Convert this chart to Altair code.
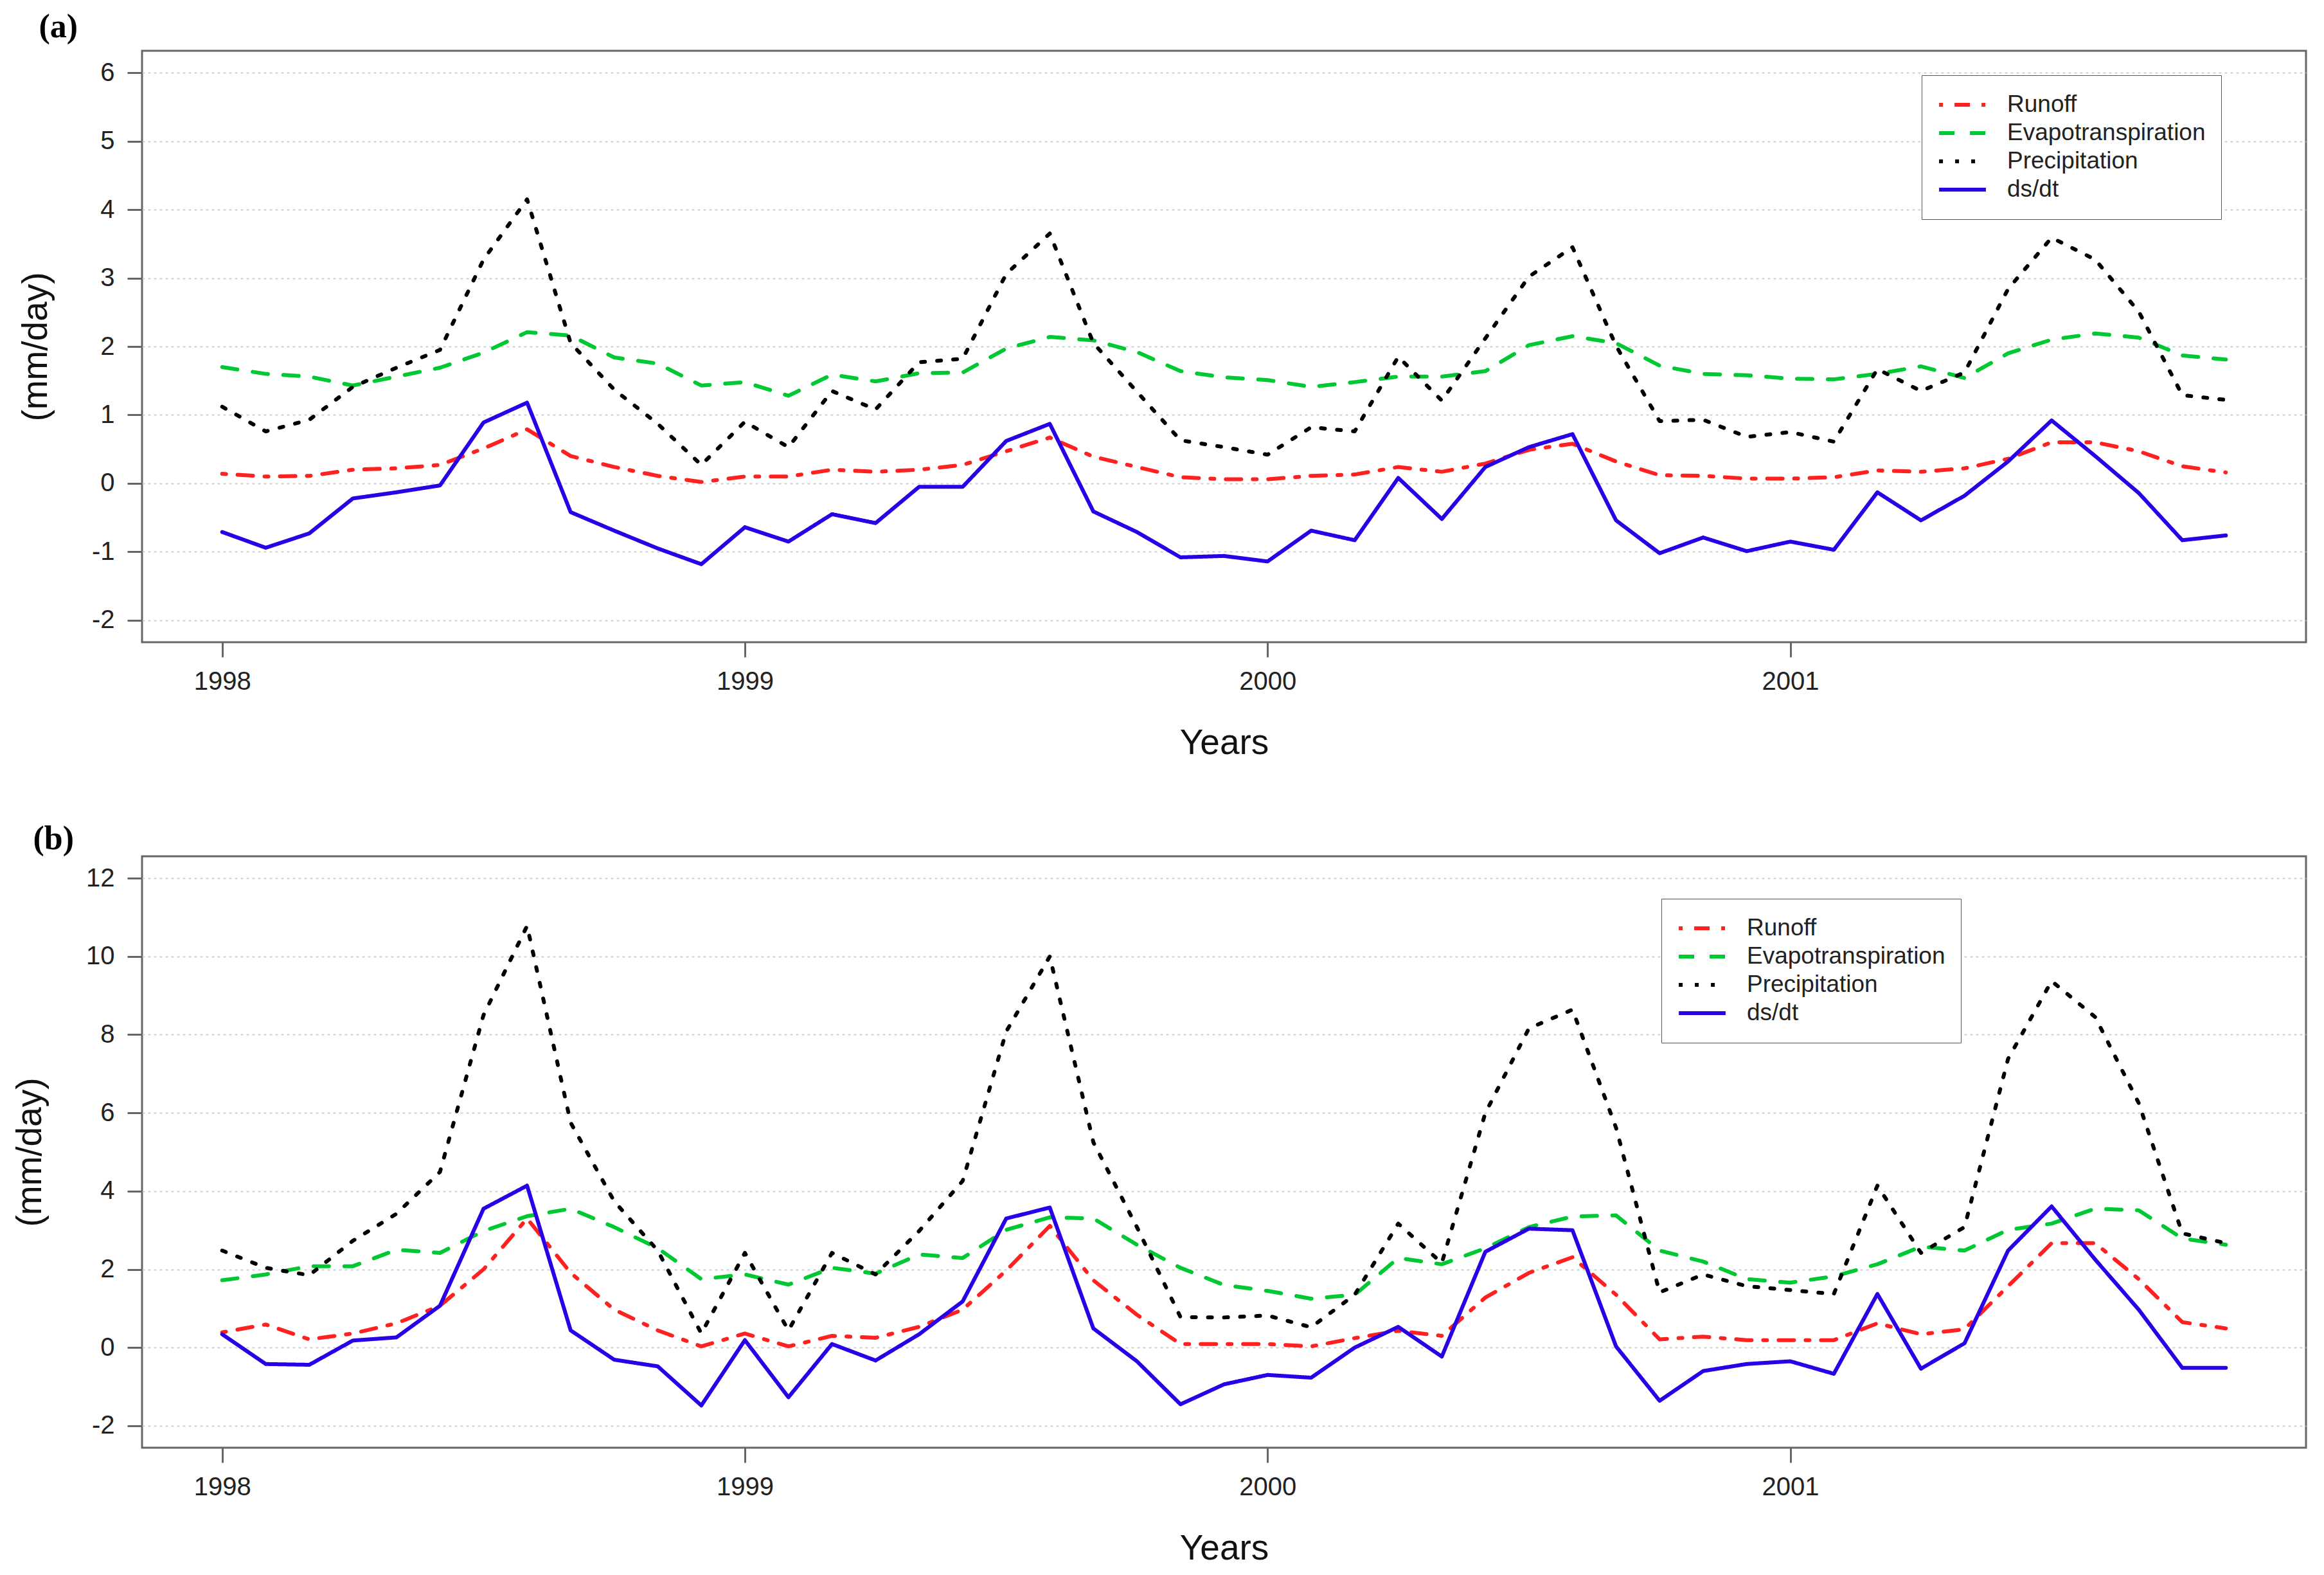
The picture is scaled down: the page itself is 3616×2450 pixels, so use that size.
import altair as alt
import pandas as pd

series_names = ["Runoff", "Evapotranspiration", "Precipitation", "ds/dt"]
series_colors = ["#ff2020", "#00c832", "#000000", "#2a00e6"]
series_dashes = [[6, 18, 24, 18], [24, 24], [6, 19], [1, 0]]

year_ticks = [1998, 1999, 2000, 2001]
start_year = 1998

# Panel (a) monthly values (mm/day), Jan 1998 - Nov 2001
runoff_a = [0.14, 0.10, 0.11, 0.20, 0.22, 0.27, 0.51, 0.79, 0.40, 0.24, 0.11, 0.02,
            0.10, 0.10, 0.20, 0.17, 0.20, 0.27, 0.47, 0.67, 0.39, 0.24, 0.09, 0.06,
            0.06, 0.11, 0.13, 0.24, 0.17, 0.29, 0.49, 0.58, 0.32, 0.12, 0.11, 0.07,
            0.07, 0.09, 0.19, 0.17, 0.22, 0.36, 0.60, 0.60, 0.47, 0.25, 0.16]
et_a = [1.70, 1.60, 1.56, 1.43, 1.56, 1.69, 1.91, 2.21, 2.16, 1.84, 1.75, 1.43,
        1.48, 1.28, 1.59, 1.49, 1.61, 1.62, 1.97, 2.14, 2.09, 1.92, 1.64, 1.55,
        1.51, 1.41, 1.48, 1.56, 1.56, 1.64, 2.02, 2.15, 2.05, 1.72, 1.60, 1.58,
        1.53, 1.52, 1.60, 1.71, 1.54, 1.90, 2.10, 2.19, 2.13, 1.87, 1.81]
precip_a = [1.12, 0.76, 0.93, 1.41, 1.69, 1.95, 3.27, 4.15, 2.05, 1.37, 0.87, 0.27,
            0.90, 0.53, 1.35, 1.08, 1.77, 1.82, 3.06, 3.65, 2.05, 1.34, 0.63, 0.53,
            0.42, 0.82, 0.76, 1.85, 1.21, 2.12, 3.02, 3.45, 2.01, 0.91, 0.93, 0.68,
            0.75, 0.61, 1.67, 1.35, 1.62, 2.84, 3.59, 3.27, 2.51, 1.29, 1.22]
dsdt_a = [-0.71, -0.94, -0.73, -0.22, -0.13, -0.03, 0.89, 1.18, -0.42, -0.69, -0.95, -1.18,
          -0.64, -0.85, -0.45, -0.58, -0.05, -0.05, 0.62, 0.87, -0.41, -0.71, -1.08, -1.06,
          -1.14, -0.69, -0.83, 0.08, -0.52, 0.24, 0.53, 0.72, -0.54, -1.02, -0.79, -0.99,
          -0.85, -0.97, -0.13, -0.54, -0.18, 0.32, 0.92, 0.40, -0.14, -0.83, -0.76]

# Panel (b)
runoff_b = [0.39, 0.59, 0.21, 0.36, 0.62, 1.07, 2.00, 3.30, 1.91, 0.97, 0.44, 0.03,
            0.36, 0.03, 0.30, 0.25, 0.53, 0.97, 1.97, 3.11, 1.72, 0.84, 0.09, 0.09,
            0.09, 0.03, 0.24, 0.43, 0.30, 1.28, 1.91, 2.31, 1.35, 0.21, 0.28, 0.19,
            0.19, 0.19, 0.62, 0.34, 0.47, 1.57, 2.67, 2.67, 1.75, 0.65, 0.49]
et_b = [1.72, 1.87, 2.08, 2.08, 2.50, 2.42, 2.98, 3.36, 3.55, 3.08, 2.54, 1.75,
        1.87, 1.61, 2.04, 1.89, 2.38, 2.29, 3.01, 3.33, 3.30, 2.63, 2.04, 1.60,
        1.45, 1.25, 1.35, 2.29, 2.13, 2.54, 3.08, 3.35, 3.38, 2.48, 2.20, 1.75,
        1.66, 1.82, 2.13, 2.58, 2.48, 3.01, 3.17, 3.55, 3.51, 2.79, 2.63]
precip_b = [2.48, 2.04, 1.85, 2.73, 3.42, 4.49, 8.50, 10.78, 5.75, 3.74, 2.48, 0.36,
            2.42, 0.44, 2.42, 1.87, 2.98, 4.26, 8.08, 10.00, 5.25, 3.08, 0.78, 0.77,
            0.82, 0.52, 1.35, 3.17, 2.16, 6.00, 8.16, 8.64, 5.62, 1.41, 1.87, 1.57,
            1.47, 1.37, 4.14, 2.42, 3.08, 7.38, 9.37, 8.45, 6.25, 2.92, 2.67]
dsdt_b = [0.34, -0.42, -0.44, 0.18, 0.26, 1.07, 3.55, 4.14, 0.44, -0.31, -0.48, -1.48,
          0.19, -1.27, 0.09, -0.33, 0.34, 1.18, 3.30, 3.58, 0.49, -0.35, -1.45, -0.94,
          -0.70, -0.77, 0.00, 0.53, -0.23, 2.45, 3.04, 3.00, 0.03, -1.36, -0.60, -0.42,
          -0.35, -0.67, 1.37, -0.54, 0.11, 2.48, 3.61, 2.25, 0.97, -0.52, -0.52]

yticks_a = [-2, -1, 0, 1, 2, 3, 4, 5, 6]
yticks_b = [-2, 0, 2, 4, 6, 8, 10, 12]


def make_df(arrays):
    rows = []
    for name, arr in zip(series_names, arrays):
        for i, v in enumerate(arr):
            rows.append({"t": start_year + i / 12.0, "value": v, "series": name})
    return pd.DataFrame(rows)


n = len(runoff_a)
pad_x = (n - 1) * 0.04 / 12.0
x_domain = [start_year - pad_x, start_year + (n - 1) / 12.0 + pad_x]

FONT = "Liberation Sans"


def panel(df, yticks, legend_x, legend_y, label, title_offset):
    lo, hi = min(yticks), max(yticks)
    pad = (hi - lo) * 0.04
    legend = alt.Legend(orient="none", legendX=legend_x, legendY=legend_y, title=None)
    return (
        alt.Chart(df)
        .mark_line(strokeWidth=6, strokeCap="round", strokeJoin="round")
        .encode(
            x=alt.X("t:Q",
                    scale=alt.Scale(domain=x_domain, nice=False, zero=False),
                    axis=alt.Axis(values=year_ticks, format="d", title="Years",
                                  grid=False, labelPadding=18, titlePadding=49)),
            y=alt.Y("value:Q",
                    scale=alt.Scale(domain=[lo - pad, hi + pad], nice=False, zero=False),
                    axis=alt.Axis(values=yticks, labelExpr="'' + datum.value",
                                  title="(mm/day)",
                                  grid=True, labelPadding=20, titlePadding=58)),
            color=alt.Color("series:N",
                            scale=alt.Scale(domain=series_names, range=series_colors),
                            legend=legend),
            strokeDash=alt.StrokeDash("series:N",
                                      scale=alt.Scale(domain=series_names, range=series_dashes),
                                      legend=legend),
        )
        .properties(
            width=3367, height=920,
            title=alt.TitleParams(label, anchor="start", frame="bounds", dx=32,
                                  font="Liberation Serif", fontWeight="bold",
                                  fontSize=52, color="#000000", offset=title_offset),
        )
    )


chart_a = panel(make_df([runoff_a, et_a, precip_a, dsdt_a]), yticks_a, 2769, 38, "(a)", 10)
chart_b = panel(make_df([runoff_b, et_b, precip_b, dsdt_b]), yticks_b, 2364, 66, "(b)", 0)

chart = (
    alt.vconcat(chart_a, chart_b, spacing=92)
    .resolve_scale(color="independent", strokeDash="independent")
    .resolve_legend(color="independent", strokeDash="independent")
    .properties(padding={"left": 10, "top": 6, "right": 10, "bottom": 5})
    .configure_view(stroke="#666666", strokeWidth=3)
    .configure_axis(
        domain=False,
        tickColor="#666666", tickWidth=3, tickSize=23,
        labelFont=FONT, labelFontSize=40, labelColor="#222222",
        titleFont=FONT, titleFontSize=55, titleFontWeight="normal", titleColor="#111111",
        gridColor="#cfcfcf", gridWidth=2, gridDash=[4, 5],
    )
    .configure_legend(
        symbolType="stroke", symbolSize=5300, symbolStrokeWidth=6,
        labelFont=FONT, labelFontSize=37, labelColor="#222222", labelOffset=30,
        labelLimit=0, clipHeight=44, rowPadding=0,
        padding=24, strokeColor="#555555", fillColor="#ffffff",
        cornerRadius=0,
    )
)

chart.save("out.html", embed_options={"renderer": "svg", "actions": False})
